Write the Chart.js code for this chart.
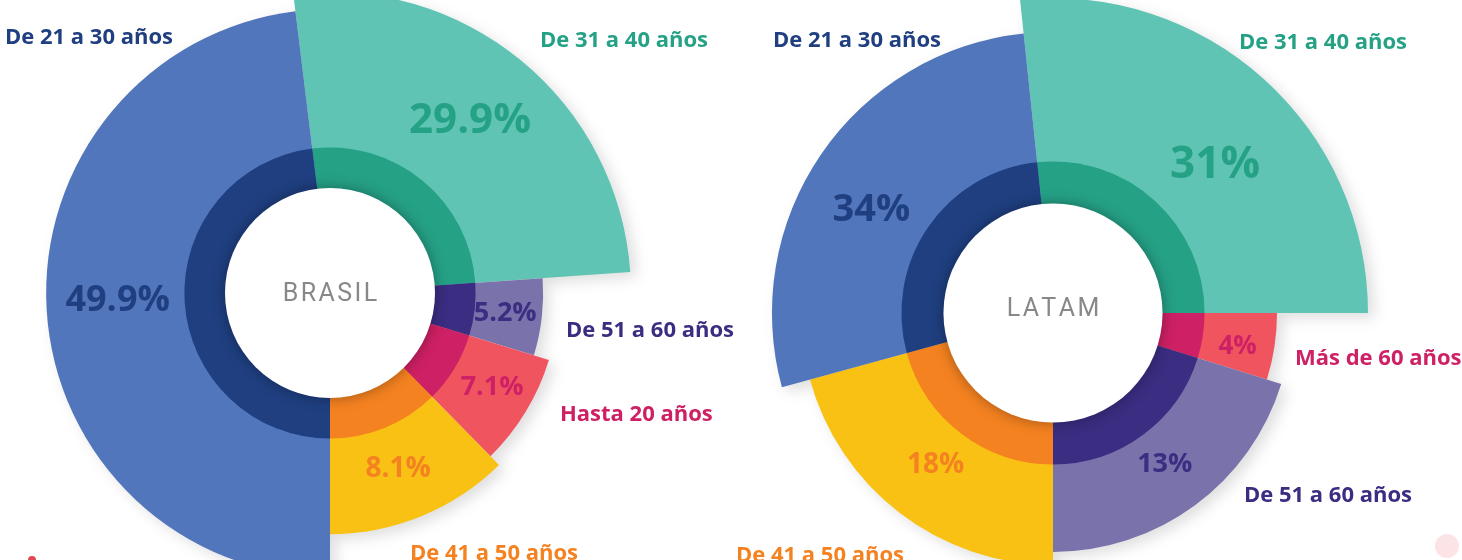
<!DOCTYPE html>
<html>
<head>
<meta charset="utf-8">
<script src="https://cdn.jsdelivr.net/npm/chart.js@4/dist/chart.umd.min.js"></script>
<style>
    html, body { margin: 0; padding: 0; background: #fff; }
    body { width: 1462px; height: 560px; overflow: hidden; position: relative; font-family: "Open Sans", sans-serif; }
    canvas { position: absolute; filter: drop-shadow(6px 5px 7px rgba(0,0,0,0.13)); }
    .tag { position: absolute; font-weight: 700; font-size: 22px; line-height: 1; white-space: nowrap; transform: translateY(-50%); }
    .dot { position: absolute; border-radius: 50%; }
</style>
</head>
<body>
<canvas id="chartBrasil" width="700" height="700"></canvas>
<canvas id="chartLatam" width="700" height="700"></canvas>
<div class="dot" style="left:1435px;top:534px;width:24px;height:24px;background:#fce3e6;"></div>
<div class="dot" style="left:28px;top:556px;width:8px;height:8px;background:#e0474f;"></div>

<script>
// Brasil, clockwise from the top
var brasilGroups = ['De 31 a 40 años', 'De 51 a 60 años', 'Hasta 20 años', 'De 41 a 50 años', 'De 21 a 30 años'];
var brasilShare = [29.9, 5.2, 7.1, 8.1, 49.9];
var brasilSweep = [93, 21, 28.5, 44.5, 173];          // degrees as drawn
var brasilReach = [86, 60.9, 65.4, 68.9, 81.1];       // radial length, 0-100

// LATAM, clockwise from the top
var latamGroups = ['De 31 a 40 años', 'Más de 60 años', 'De 51 a 60 años', 'De 41 a 50 años', 'De 21 a 30 años'];
var latamShare = [31, 4, 13, 18, 34];
var latamSweep = [96, 17.3, 72.7, 74.7, 99.3];
var latamReach = [90, 64, 68.3, 72, 80.3];

// palette
var lightTeal = '#5fc4b3', darkTeal = '#25a186';
var lightBlue = '#5176bb', darkBlue = '#1f3f80';
var lightPurple = '#7a73ab', darkPurple = '#3a2d82';
var lightCoral = '#f0555f', darkMagenta = '#ce2064';
var lightYellow = '#f9c114', darkOrange = '#f48220';

var faceLabels = {
    id: 'faceLabels',
    afterDatasetsDraw(chart, args, opts) {
        var ctx = chart.ctx;
        var scale = chart.scales.r;
        var cx = scale.xCenter, cy = scale.yCenter;
        var holeR = scale.getDistanceFromCenterForValue(opts.hole);
        var ringR = scale.getDistanceFromCenterForValue(opts.ring);

        // white hub with its soft shadow on the ring
        ctx.save();
        ctx.shadowColor = 'rgba(0,0,0,0.35)';
        ctx.shadowBlur = 14;
        ctx.fillStyle = '#fff';
        ctx.beginPath();
        ctx.arc(cx, cy, holeR, 0, Math.PI * 2);
        ctx.fill();
        ctx.restore();

        // hub name, spaced by hand
        ctx.save();
        ctx.font = '400 25px Roboto';
        ctx.fillStyle = '#888';
        ctx.textBaseline = 'alphabetic';
        var spacing = 2.4;
        var chars = opts.name.split('');
        var total = chars.reduce((w, c) => w + ctx.measureText(c).width, 0) + spacing * (chars.length - 1);
        var x = cx - total / 2;
        chars.forEach(c => {
            ctx.fillText(c, x, cy + opts.nameDrop);
            x += ctx.measureText(c).width + spacing;
        });
        ctx.restore();

        // share of each slice, centred in the light band
        var meta = chart.getDatasetMeta(0);
        ctx.save();
        ctx.textAlign = 'center';
        ctx.textBaseline = 'middle';
        meta.data.forEach((arc, i) => {
            var mid = (arc.startAngle + arc.endAngle) / 2;
            var rad = (ringR + arc.outerRadius) / 2;
            var nudge = opts.nudges[i];
            ctx.font = '700 ' + opts.sizes[i] + 'px "Open Sans"';
            ctx.fillStyle = opts.textColors[i];
            ctx.fillText(opts.values[i] + '%', cx + Math.cos(mid) * rad + nudge[0], cy + Math.sin(mid) * rad + nudge[1]);
        });
        ctx.restore();
    }
};

class AgeSunburst {

    constructor(instance) {
        this.canvas = instance.canvas;
        this.name = instance.name;
        this.nameDrop = instance.nameDrop;
        this.groups = instance.groups;
        this.share = instance.share;
        this.sweep = instance.sweep;
        this.reach = instance.reach;
        this.ring = instance.ring;
        this.hole = instance.hole;
        this.startAngle = instance.startAngle;
        this.lightColors = instance.lightColors;
        this.darkColors = instance.darkColors;
        this.labelSizes = instance.labelSizes;
        this.labelNudges = instance.labelNudges;
        this.tagPos = instance.tagPos;
        this.center = instance.center;
    }

    init() {
        this.canvas.style.left = (this.center[0] - this.canvas.width / 2) + 'px';
        this.canvas.style.top = (this.center[1] - this.canvas.height / 2) + 'px';
        this.chartObj = this.buildChart();
        this.addTags();
    }

    buildChart() {
        var sweep = this.sweep;
        var ring = this.ring;
        return new Chart(this.canvas.getContext('2d'), {
            type: 'polarArea',
            data: {
                labels: this.groups,
                datasets: [{
                    data: this.reach,
                    backgroundColor: this.lightColors,
                    borderWidth: 0,
                    angle: c => sweep[c.dataIndex],
                    order: 2,
                }, {
                    data: this.reach.map(() => ring),
                    backgroundColor: this.darkColors,
                    borderWidth: 0,
                    angle: c => sweep[c.dataIndex],
                    order: 1,
                }]
            },
            options: {
                responsive: false,
                animation: false,
                events: [],
                layout: { padding: 0 },
                plugins: {
                    legend: { display: false },
                    tooltip: { enabled: false },
                    faceLabels: {
                        name: this.name,
                        nameDrop: this.nameDrop,
                        hole: this.hole,
                        ring: this.ring,
                        values: this.share,
                        sizes: this.labelSizes,
                        nudges: this.labelNudges,
                        textColors: this.darkColors,
                    },
                },
                scales: {
                    r: {
                        min: 0,
                        max: 100,
                        startAngle: this.startAngle,
                        ticks: { display: false },
                        grid: { display: false },
                        angleLines: { display: false },
                        pointLabels: { display: false },
                    }
                }
            },
            plugins: [faceLabels],
        });
    }

    addTags() {
        this.groups.forEach((g, i) => {
            var div = document.createElement('div');
            div.className = 'tag';
            div.textContent = g;
            div.style.left = this.tagPos[i][0] + 'px';
            div.style.top = this.tagPos[i][1] + 'px';
            div.style.color = this.darkColors[i];
            document.body.appendChild(div);
        });
    }
}

var chartInstance = {
    canvas: document.getElementById('chartBrasil'),
    name: 'BRASIL',
    nameDrop: 8,
    groups: brasilGroups,
    share: brasilShare,
    sweep: brasilSweep,
    reach: brasilReach,
    ring: 41.6,
    hole: 30,
    startAngle: -7,
    lightColors: [lightTeal, lightPurple, lightCoral, lightYellow, lightBlue],
    darkColors: [darkTeal, darkPurple, darkMagenta, darkOrange, darkBlue],
    labelSizes: [42, 27, 27, 28, 36],
    labelNudges: [[-2, 0], [-3, 0], [2, -3], [-5, -3], [2, -5]],
    tagPos: [[540, 38], [566, 328], [560, 412], [410, 551], [5, 35]],
    center: [330, 293],
}
var brasilChart = new AgeSunburst(chartInstance);
brasilChart.init();

var chartInstance = {
    canvas: document.getElementById('chartLatam'),
    name: 'LATAM',
    nameDrop: 3,
    groups: latamGroups,
    share: latamShare,
    sweep: latamSweep,
    reach: latamReach,
    ring: 43.3,
    hole: 31.3,
    startAngle: -6,
    lightColors: [lightTeal, lightCoral, lightPurple, lightYellow, lightBlue],
    darkColors: [darkTeal, darkMagenta, darkPurple, darkOrange, darkBlue],
    labelSizes: [44, 26, 27, 28, 38],
    labelNudges: [[6, 26], [-1, 5], [-4, -6], [5, -8], [-3, 19]],
    tagPos: [[1239, 40], [1295, 356], [1244, 493], [736, 553], [773, 38]],
    center: [1053, 313],
}
var latamChart = new AgeSunburst(chartInstance);
latamChart.init();
</script>
</body>
</html>
